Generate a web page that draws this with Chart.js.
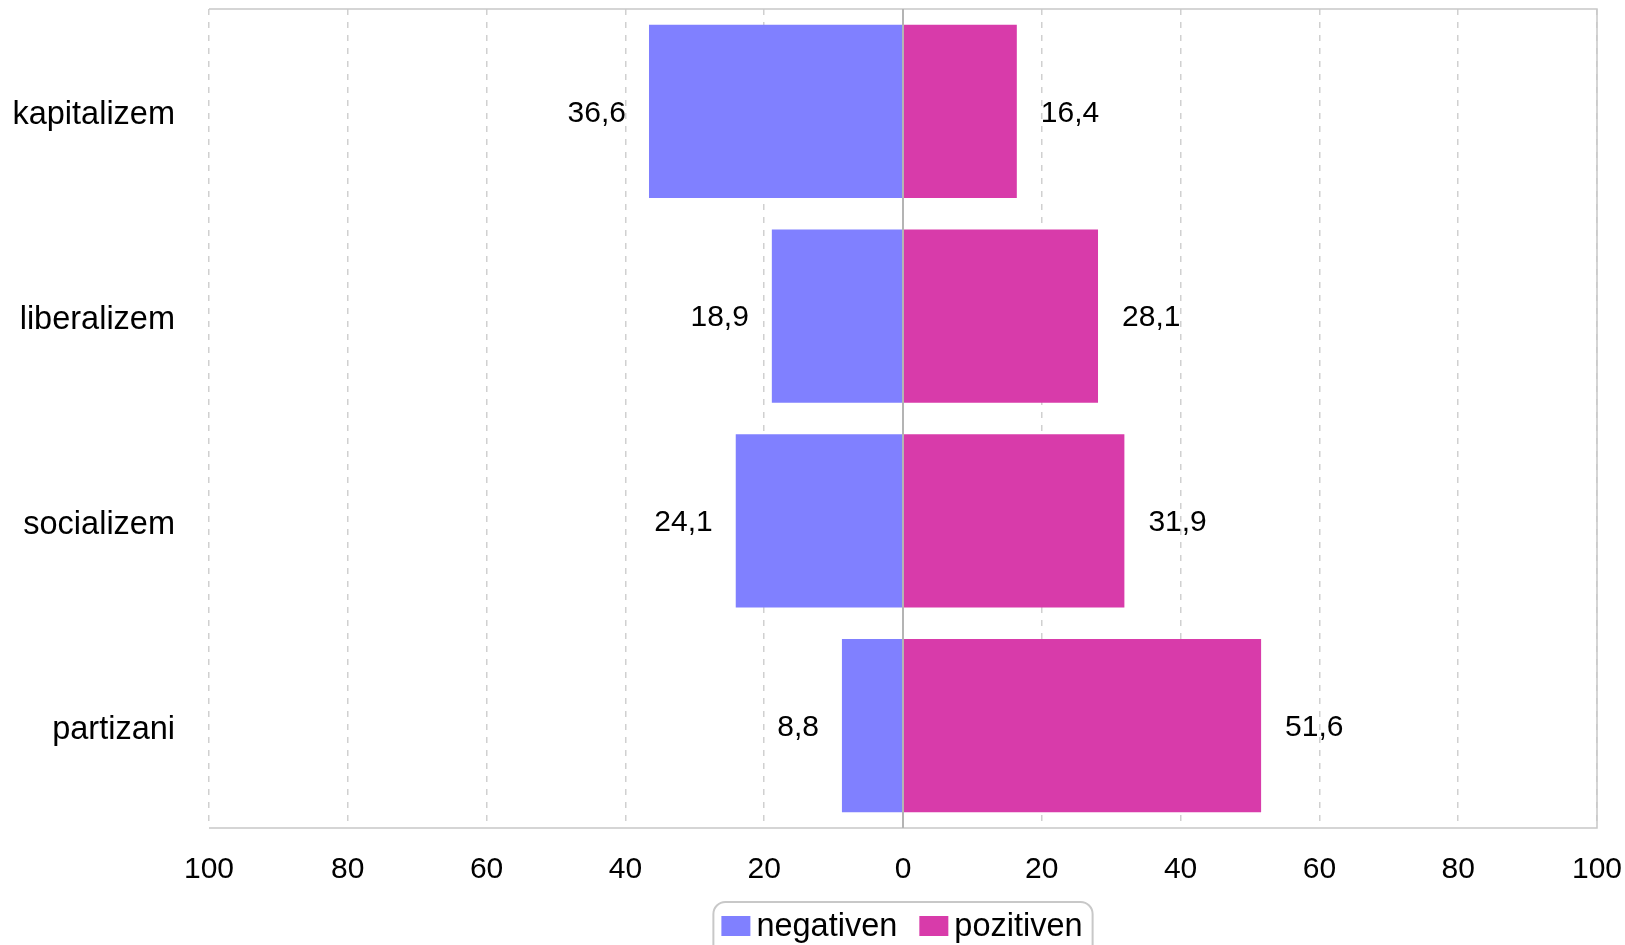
<!DOCTYPE html>
<html>
<head>
<meta charset="utf-8">
<script src="https://cdn.jsdelivr.net/npm/chart.js@4.4.1/dist/chart.umd.min.js"></script>
<style>
  html, body { margin: 0; padding: 0; background: #fff; overflow: hidden; }
  #wrap { width: 1625px; height: 945px; position: relative; }
</style>
</head>
<body>
<div id="wrap"><canvas id="chart"></canvas></div>
<script>
const categories = ['kapitalizem', 'liberalizem', 'socializem', 'partizani'];
const negativen = [36.6, 18.9, 24.1, 8.8];
const pozitiven = [16.4, 28.1, 31.9, 51.6];
const xTicks = [-100, -80, -60, -40, -20, 0, 20, 40, 60, 80, 100];
const seriesNames = ['negativen', 'pozitiven'];

const BLUE = '#8080FF';
const PINK = '#D83BAA';
const FONT = 'Arial, "Liberation Sans", sans-serif';

const fmt = v => Math.abs(v).toFixed(1).replace('.', ',');

// value labels next to bar ends
const valueLabels = {
  id: 'valueLabels',
  afterDatasetsDraw(chart) {
    const ctx = chart.ctx;
    ctx.save();
    ctx.font = '30px ' + FONT;
    ctx.fillStyle = '#000';
    ctx.textBaseline = 'middle';
    chart.data.datasets.forEach((ds, i) => {
      chart.getDatasetMeta(i).data.forEach((el, j) => {
        const v = ds.data[j];
        if (v < 0) {
          ctx.textAlign = 'right';
          ctx.fillText(fmt(v), el.x - 23, el.y + 2);
        } else {
          ctx.textAlign = 'left';
          ctx.fillText(fmt(v), el.x + 24, el.y + 2);
        }
      });
    });
    ctx.restore();
  }
};

// frame, zero line and boxed legend
const frame = {
  id: 'frame',
  afterDatasetsDraw(chart) {
    const { ctx, chartArea: a, scales } = chart;
    ctx.save();
    ctx.strokeStyle = '#c8c8c8';
    ctx.lineWidth = 1.5;
    ctx.beginPath();
    ctx.moveTo(a.left, a.bottom);
    ctx.lineTo(a.right, a.bottom);
    ctx.lineTo(a.right, a.top);
    ctx.lineTo(a.left, a.top);
    ctx.stroke();
    const x0 = scales.x.getPixelForValue(0);
    ctx.strokeStyle = '#b4b4b4';
    ctx.lineWidth = 2;
    ctx.beginPath();
    ctx.moveTo(x0, a.top);
    ctx.lineTo(x0, a.bottom);
    ctx.stroke();
    ctx.restore();
  },
  afterDraw(chart) {
    const { ctx, chartArea: a } = chart;
    ctx.save();
    ctx.font = '32.5px ' + FONT;
    const sw = 29, sh = 20, gap = 6, itemGap = 22, padL = 8, padR = 10;
    const widths = seriesNames.map(n => ctx.measureText(n).width);
    const total = padL + sw + gap + widths[0] + itemGap + sw + gap + widths[1] + padR;
    const cx = (a.left + a.right) / 2;
    const left = cx - total / 2;
    const top = a.bottom + 74;
    const cy = top + 24;
    ctx.strokeStyle = '#c8c8c8';
    ctx.lineWidth = 2;
    ctx.beginPath();
    ctx.roundRect(left, top, total, 60, 12);
    ctx.stroke();
    let x = left + padL;
    const colors = [BLUE, PINK];
    seriesNames.forEach((n, i) => {
      ctx.fillStyle = colors[i];
      ctx.fillRect(x, cy - sh / 2, sw, sh);
      x += sw + gap;
      ctx.fillStyle = '#000';
      ctx.textBaseline = 'middle';
      ctx.textAlign = 'left';
      ctx.fillText(n, x, cy + 1);
      x += widths[i] + itemGap;
    });
    ctx.restore();
  }
};

new Chart(document.getElementById('chart'), {
  type: 'bar',
  data: {
    labels: categories,
    datasets: [
      { label: seriesNames[0], data: negativen.map(v => -v), backgroundColor: BLUE },
      { label: seriesNames[1], data: pozitiven, backgroundColor: PINK },
    ],
  },
  options: {
    indexAxis: 'y',
    responsive: true,
    maintainAspectRatio: false,
    animation: false,
    datasets: { bar: { categoryPercentage: 0.845, barPercentage: 1 } },
    layout: { padding: { top: 9, right: 28, bottom: 60, left: 0 } },
    plugins: {
      legend: { display: false },
      tooltip: { enabled: false },
    },
    scales: {
      x: {
        stacked: true,
        min: -100,
        max: 100,
        afterBuildTicks: s => { s.ticks = xTicks.map(v => ({ value: v })); },
        afterFit: s => { s.height = 57; s.paddingLeft = 0; s.paddingRight = 0; },
        grid: { color: '#d0d0d0', lineWidth: 1.5, drawTicks: false },
        border: { display: false, dash: [6, 7] },
        ticks: {
          padding: 24,
          color: '#000',
          font: { family: FONT, size: 30 },
          callback: v => String(Math.abs(v)),
        },
      },
      y: {
        stacked: true,
        afterFit: s => { s.width = 209; s.paddingTop = 0; s.paddingBottom = 0; },
        grid: { display: false, drawTicks: false },
        border: { display: false },
        ticks: {
          padding: 34,
          labelOffset: 4,
          color: '#000',
          font: { family: FONT, size: 32.5 },
        },
      },
    },
  },
  plugins: [valueLabels, frame],
});
</script>
</body>
</html>
